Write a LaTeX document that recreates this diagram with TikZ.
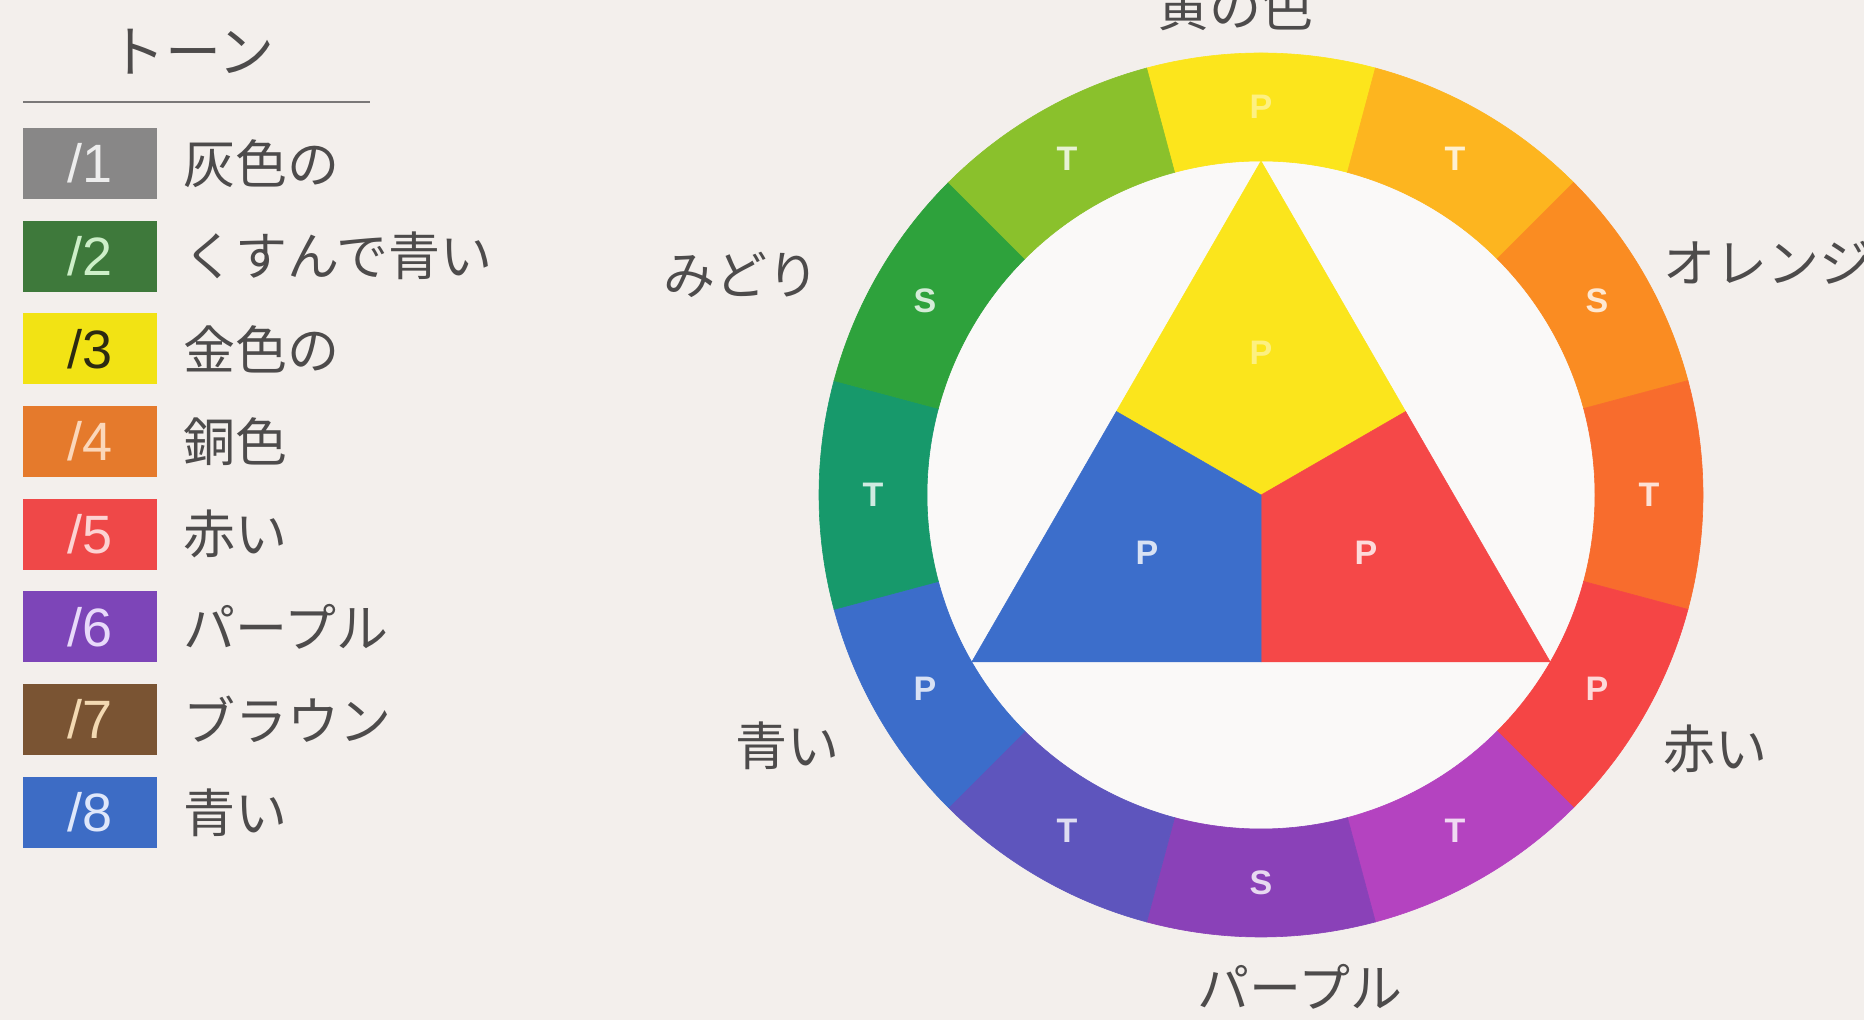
\documentclass[tikz,border=0pt]{standalone}
\usepackage{fontspec}
\setmainfont{Liberation Sans}
\newfontfamily\jp{Noto Sans CJK JP}
\usetikzlibrary{calc}

\definecolor{bg}{HTML}{F3EFEC}
\definecolor{innerbg}{HTML}{FAF9F8}
\definecolor{txt}{HTML}{4D4B4B}
\definecolor{rulecol}{HTML}{7A7878}
% legend boxes
\definecolor{g1}{HTML}{888787}
\definecolor{g2}{HTML}{3E793B}
\definecolor{g3}{HTML}{F2E314}
\definecolor{g4}{HTML}{E57A2C}
\definecolor{g5}{HTML}{EF4848}
\definecolor{g6}{HTML}{7D45B8}
\definecolor{g7}{HTML}{7A5433}
\definecolor{g8}{HTML}{3D6CC5}
\definecolor{t1}{HTML}{EDEDED}
\definecolor{t2}{HTML}{CDEFC8}
\definecolor{t3}{HTML}{2C2A12}
\definecolor{t4}{HTML}{FBD7BA}
\definecolor{t5}{HTML}{FCD3D3}
\definecolor{t6}{HTML}{E8DAFA}
\definecolor{t7}{HTML}{F3D9B2}
\definecolor{t8}{HTML}{DFE7FA}
% ring colours
\definecolor{r0}{HTML}{FCE51C}
\definecolor{r1}{HTML}{FDB51F}
\definecolor{r2}{HTML}{FA8C22}
\definecolor{r3}{HTML}{F86C2D}
\definecolor{r4}{HTML}{F54545}
\definecolor{r5}{HTML}{B443C0}
\definecolor{r6}{HTML}{8A41B8}
\definecolor{r7}{HTML}{5E55BD}
\definecolor{r8}{HTML}{3C6DCA}
\definecolor{r9}{HTML}{17996B}
\definecolor{r10}{HTML}{2EA23C}
\definecolor{r11}{HTML}{8AC12C}
% triangle
\definecolor{ty}{HTML}{FBE51C}
\definecolor{tb}{HTML}{3C6ECB}
\definecolor{tr}{HTML}{F54848}

\begin{document}
\begin{tikzpicture}[x=1pt,y=1pt,
  jptext/.style={font=\jp\fontsize{52}{60}\selectfont, text=txt, inner sep=0pt},
  jptitle/.style={font=\jp\fontsize{56}{64}\selectfont, text=txt, inner sep=0pt},
  letterlab/.style={font=\fontsize{34}{40}\selectfont\bfseries, text=white, text opacity=0.8, inner sep=0pt},
  faintlab/.style={letterlab, text opacity=0.45},
  legbox/.style={minimum width=134pt, minimum height=71pt, inner sep=0pt, font=\fontsize{54}{60}\selectfont},
]
\fill[bg] (0,0) rectangle (1864,1020);
\useasboundingbox (0,0) rectangle (1864,1020);

% ---------------- legend ----------------
\node[jptitle] (title) at (192,968) {トーン};
\coordinate (ruleL) at (23,918);
\coordinate (ruleR) at (370,918);
\draw[rulecol, line width=2pt] (ruleL) -- (ruleR);

\foreach \i/\fc/\tc/\lab in {1/g1/t1/灰色の, 2/g2/t2/くすんで青い, 3/g3/t3/金色の, 4/g4/t4/銅色, 5/g5/t5/赤い, 6/g6/t6/パープル, 7/g7/t7/ブラウン, 8/g8/t8/青い}{
  \node[legbox, fill=\fc, text=\tc] (box\i) at (90,{856.5-92.7*(\i-1)}) {/\i};
  \node[jptext, anchor=west] (lab\i) at (183,{856.5-92.7*(\i-1)}) {\lab};
}

% ---------------- wheel ----------------
\coordinate (C) at (1261,525);
\fill[innerbg] (C) circle[radius=334pt];

\foreach \i/\c/\l in {0/r0/P, 1/r1/T, 2/r2/S, 3/r3/T, 4/r4/P, 5/r5/T, 6/r6/S, 7/r7/T, 8/r8/P, 9/r9/T, 10/r10/S, 11/r11/T}{
  \filldraw[fill=\c, draw=\c, line width=0.6pt]
    ($(C)+({105-30*\i}:442pt)$) arc[start angle={105-30*\i}, end angle={75-30*\i}, radius=442pt]
    -- ($(C)+({75-30*\i}:334pt)$) arc[start angle={75-30*\i}, end angle={105-30*\i}, radius=334pt]
    -- cycle;
}
\foreach \i/\l in {1/T, 2/S, 3/T, 4/P, 5/T, 6/S, 7/T, 8/P, 9/T, 10/S, 11/T}{
  \node[letterlab] (seg\i) at ($(C)+({90-30*\i}:388pt)$) {\l};
}
\node[faintlab] (seg0) at ($(C)+(90:388pt)$) {P};

% triangle
\coordinate (A) at ($(C)+(90:334pt)$);
\coordinate (BL) at ($(C)+(210:334pt)$);
\coordinate (BR) at ($(C)+(330:334pt)$);
\coordinate (M1) at ($(A)!0.5!(BL)$);
\coordinate (M2) at ($(A)!0.5!(BR)$);
\coordinate (M3) at ($(BL)!0.5!(BR)$);
\filldraw[fill=ty, draw=ty, line width=0.5pt] (A) -- (M2) -- (C) -- (M1) -- cycle;
\filldraw[fill=tr, draw=tr, line width=0.5pt] (M2) -- (BR) -- (M3) -- (C) -- cycle;
\filldraw[fill=tb, draw=tb, line width=0.5pt] (M1) -- (C) -- (M3) -- (BL) -- cycle;
\node[faintlab] (py) at (1261,667) {P};
\node[letterlab] (pb) at (1147,467) {P};
\node[letterlab] (pr) at (1366,467) {P};

% outer labels
\node[jptext, anchor=base] (yellowlab) at (1235,993) {黄の色};
\node[jptext] (greenlab) at (741,745) {みどり};
\node[jptext, anchor=west] (orangelab) at (1663,757) {オレンジ};
\node[jptext] (purplelab) at (1300,33) {パープル};
\node[jptext] (bluelab) at (787,274) {青い};
\node[jptext] (redlab) at (1715,271) {赤い};
\end{tikzpicture}
\end{document}
